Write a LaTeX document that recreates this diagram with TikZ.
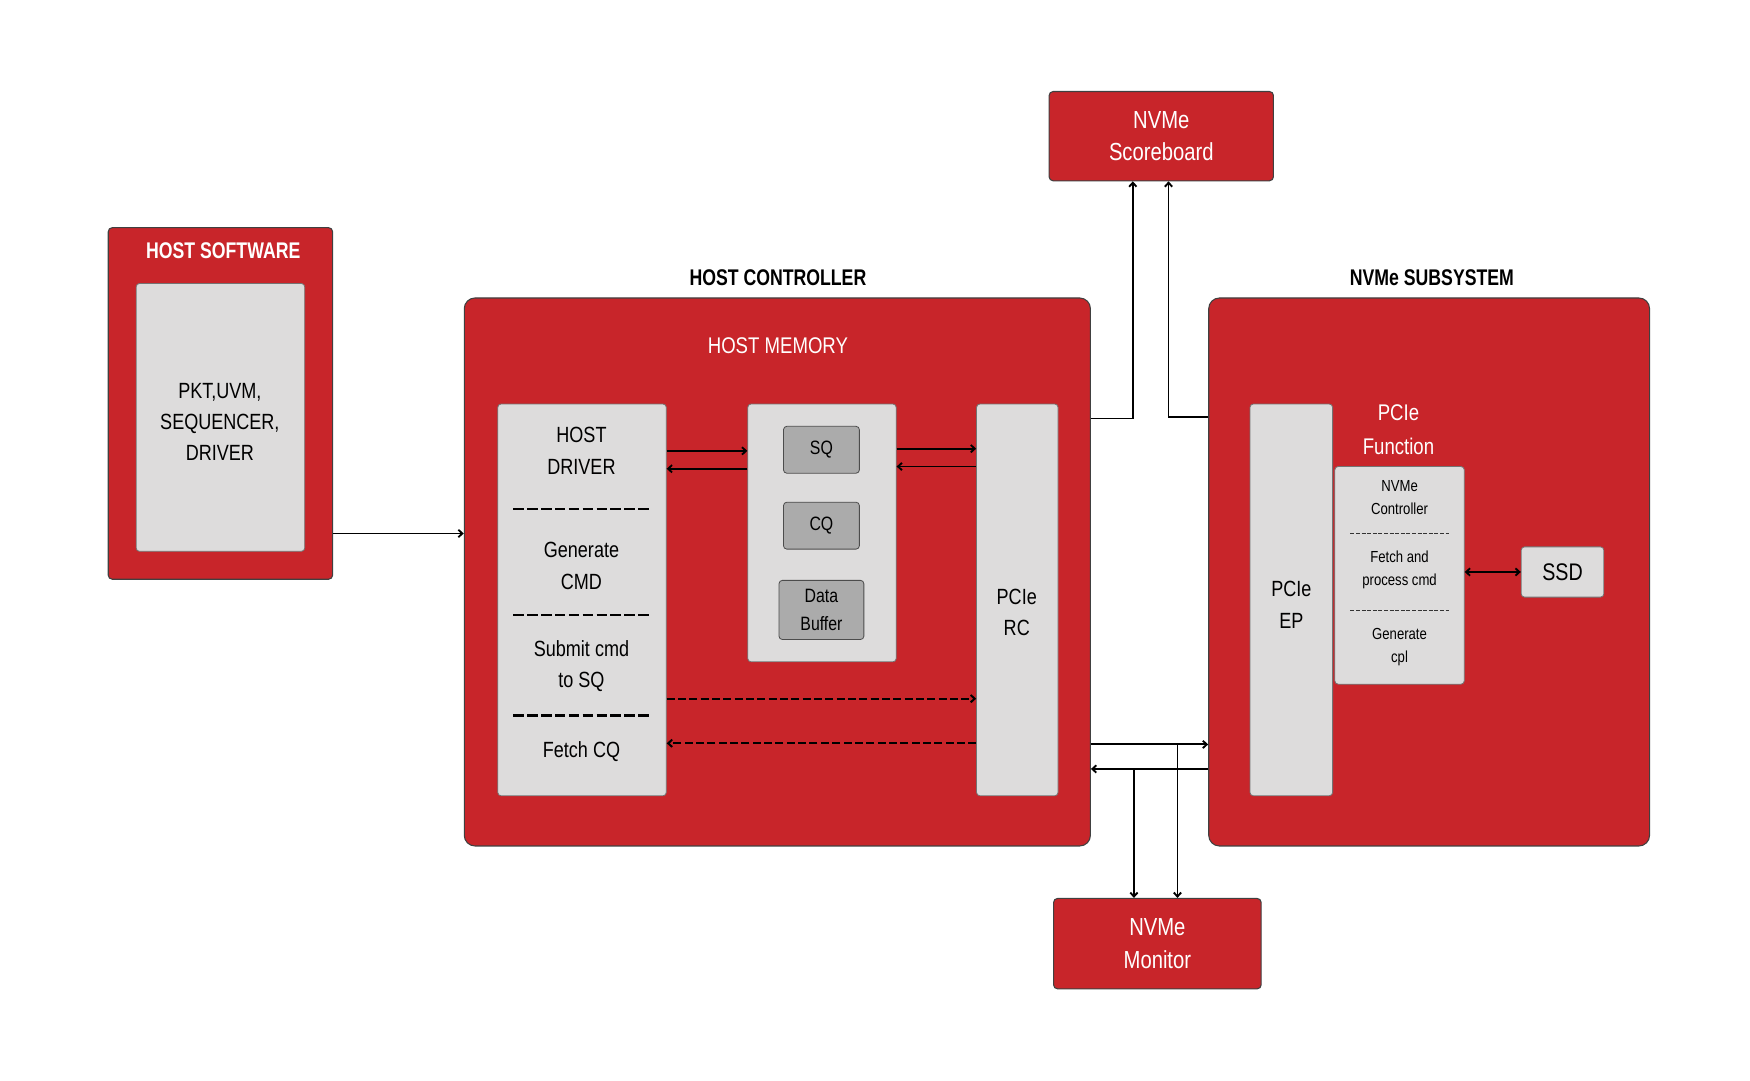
\documentclass[tikz,border=0pt]{standalone}
\usepackage{fontspec}
\setmainfont[FakeStretch=0.82]{Liberation Sans}
\usetikzlibrary{arrows.meta,fit,calc}
\definecolor{nred}{HTML}{C8252A}
\definecolor{lgray}{HTML}{DDDCDC}
\definecolor{mgray}{HTML}{ABABAB}
\begin{document}
\begin{tikzpicture}[x=0.837pt,y=-0.837pt,
  redbox/.style={fill=nred, draw=black!75, line width=0.8pt, rounded corners=7pt, inner sep=0pt},
  graybox/.style={fill=lgray, draw=black!55, line width=0.6pt, rounded corners=2.5pt, inner sep=0pt},
  dgraybox/.style={fill=mgray, draw=black!70, line width=0.6pt, rounded corners=2.5pt, inner sep=0pt},
  lbl/.style={align=center, inner sep=0pt, font=\fontsize{16.5}{23.4}\selectfont, text=black},
  slbl/.style={align=center, inner sep=0pt, font=\fontsize{12}{17.2}\selectfont, text=black},
  qlbl/.style={align=center, inner sep=0pt, font=\fontsize{14.5}{21}\selectfont, text=black},
  wlbl/.style={align=center, inner sep=0pt, font=\fontsize{17}{25}\selectfont, text=white},
  blbl/.style={align=center, inner sep=0pt, font=\fontsize{18.5}{24.3}\selectfont, text=white},
  ttl/.style={inner sep=0pt, font=\fontsize{17}{20}\selectfont\bfseries\addfontfeature{FakeStretch=0.78}},
  sep/.style={line width=2pt, dash pattern=on 7.8pt off 2.6pt},
  ssep/.style={line width=0.7pt, black!80, dash pattern=on 3pt off 1.2pt},
  arr/.style={line width=1.4pt, -{Straight Barb[length=3pt,width=5.5pt]}},
  darr/.style={arr, line width=1.5pt, dash pattern=on 6pt off 2.5pt},
  biarr/.style={line width=1.4pt, {Straight Barb[length=3pt,width=5.5pt]}-{Straight Barb[length=3pt,width=5.5pt]}}
]
\useasboundingbox[fill=white] (0,0) rectangle (1568,968);

% helper coordinates
\coordinate (y375) at (0,375);
\coordinate (y374) at (0,374);
\coordinate (y478) at (0,478);
\coordinate (y404) at (0,404);
\coordinate (y420) at (0,420);
\coordinate (y402) at (0,402);
\coordinate (y418) at (0,418);
\coordinate (y626) at (0,626);
\coordinate (y666) at (0,666);
\coordinate (y667) at (0,667);
\coordinate (y689) at (0,689);
\coordinate (x1015) at (1015,0);
\coordinate (x1047) at (1047,0);
\coordinate (x1016) at (1016,0);
\coordinate (x1055) at (1055,0);

% HOST SOFTWARE
\node[redbox, rounded corners=3pt, fit={(97,204)(298,519)}] (hs) {};
\node[ttl, text=white] (hsT) at (200,225) {HOST SOFTWARE};
\node[graybox, fit={(122,254)(273,494)}] (hsI) {};
\node[lbl] (hsL) at (197,378) {PKT,UVM,\\SEQUENCER,\\DRIVER};

% HOST CONTROLLER
\node[ttl] (hcT) at (697,249) {HOST CONTROLLER};
\node[redbox, rounded corners=8pt, fit={(416,267)(977,758)}] (hc) {};
\node[wlbl] (hmT) at (697,310) {HOST MEMORY};

\node[graybox, fit={(446,362)(597,713)}] (drv) {};
\node[lbl] (drv1) at (521,404) {HOST\\DRIVER};
\node[lbl] (drv2) at (521,507) {Generate\\CMD};
\node[lbl] (drv3) at (521,597) {Submit cmd\\to SQ};
\node[lbl] (drv4) at (521,673) {Fetch CQ};
\draw[sep] (460,456) -- (582,456);
\draw[sep] (460,551) -- (582,551);
\draw[sep] (460,641) -- (582,641);

\node[graybox, fit={(670,362)(803,593)}] (mem) {};
\node[dgraybox, fit={(702,382)(770,424)}] (sq) {};
\node[qlbl] at (sq) {SQ};
\node[dgraybox, fit={(702,450)(770,492)}] (cq) {};
\node[qlbl] at (cq) {CQ};
\node[dgraybox, fit={(698,520)(774,573)}] (db) {};
\node[qlbl] at (db) {Data\\Buffer};

\node[graybox, fit={(875,362)(948,713)}] (rc) {};
\node[lbl] (rcL) at (911,549) {PCIe\\RC};

\draw[arr] (drv.east |- y404) -- (mem.west |- y404);
\draw[arr] (mem.west |- y420) -- (drv.east |- y420);
\draw[arr] (mem.east |- y402) -- (rc.west |- y402);
\draw[arr] (rc.west |- y418) -- (mem.east |- y418);
\draw[darr] (drv.east |- y626) -- (rc.west |- y626);
\draw[darr] (rc.west |- y666) -- (drv.east |- y666);

\draw[arr] (hs.east |- y478) -- (hc.west |- y478);

% NVMe SCOREBOARD
\node[redbox, rounded corners=3pt, fit={(940,82)(1141,162)}] (sb) {};
\node[blbl] (sbL) at (sb) {NVMe\\Scoreboard};

% NVMe SUBSYSTEM
\node[ttl] (nsT) at (1283,249) {NVMe SUBSYSTEM};
\node[redbox, rounded corners=8pt, fit={(1083,267)(1478,758)}] (ns) {};
\node[graybox, fit={(1120,362)(1194,713)}] (ep) {};
\node[lbl] (epL) at (1157,542) {PCIe\\EP};
\node[wlbl] (pfT) at (1253,385) {PCIe\\Function};
\node[graybox, fit={(1196,418)(1312,613)}] (fn) {};
\node[slbl] (fn1) at (1254,446) {NVMe\\Controller};
\node[slbl] (fn2) at (1254,511) {Fetch and\\process cmd};
\node[slbl] (fn3) at (1254,580) {Generate\\cpl};
\draw[ssep] (1210,478) -- (1298,478);
\draw[ssep] (1210,547) -- (1298,547);
\node[graybox, fit={(1363,490)(1437,535)}] (ssd) {};
\node[lbl, font=\fontsize{18}{22}\selectfont] at (ssd) {SSD};
\draw[biarr] (fn.east |- ssd.west) -- (ssd.west);

% NVMe MONITOR
\node[redbox, rounded corners=3pt, fit={(944,805)(1130,886)}] (mon) {};
\node[blbl] (monL) at (mon) {NVMe\\Monitor};

% connections to scoreboard
\draw[arr] (hc.east |- y375) -| (sb.south -| x1015);
\draw[arr] (ns.west |- y374) -| (sb.south -| x1047);

% connections between controller, subsystem and monitor
\draw[arr] (hc.east |- y667) -- (ns.west |- y667);
\draw[arr] (ns.west |- y689) -- (hc.east |- y689);
\draw[arr] (x1016 |- y689) -- (mon.north -| x1016);
\draw[arr] (x1055 |- y667) -- (mon.north -| x1055);
\end{tikzpicture}
\end{document}
